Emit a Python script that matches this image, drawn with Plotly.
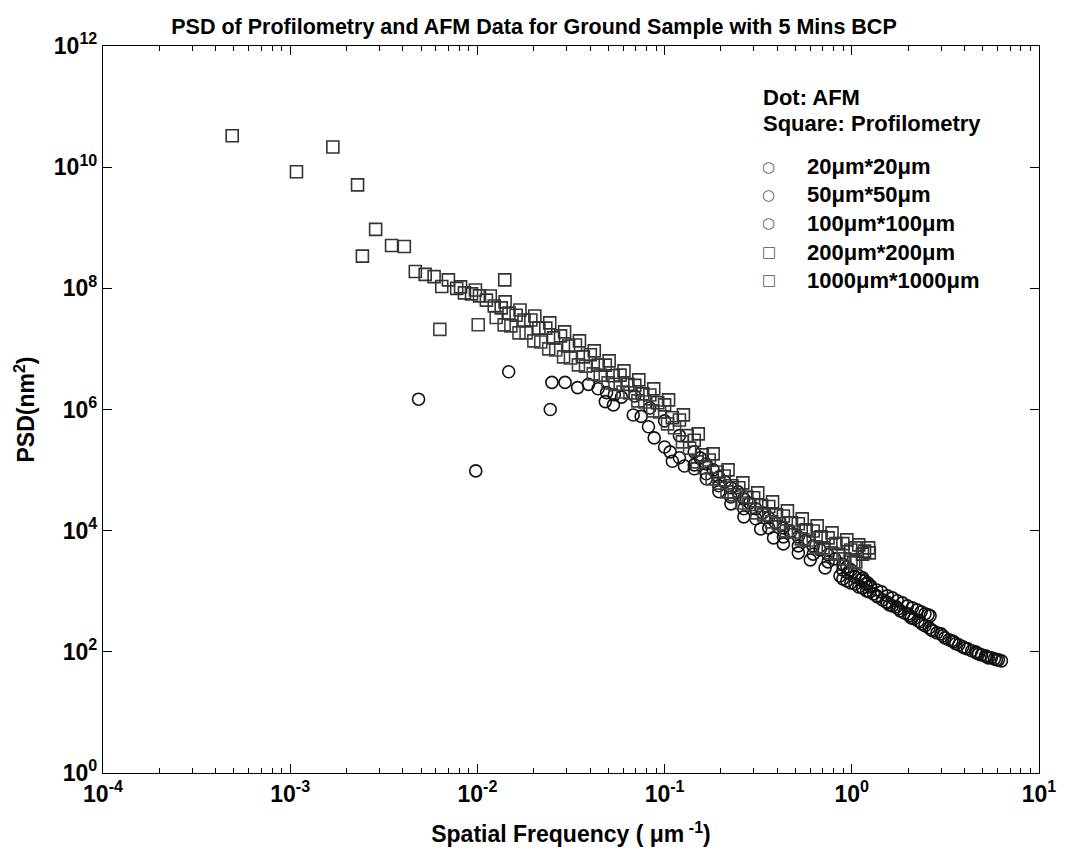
import plotly.graph_objects as go

# ---------------- data ----------------
f_20 = [0.0533, 0.075, 0.088, 0.107, 0.110, 0.1276, 0.144, 0.167, 0.195, 0.226, 0.265, 0.326,
        0.382, 0.431, 0.518, 0.600, 0.720, 0.865, 1.04, 1.14, 1.245, 1.36, 1.46, 1.55, 1.65,
        1.77, 1.91, 2.03, 2.15, 2.32, 2.46, 2.65, 2.85, 3.07, 3.30, 3.51, 3.73, 4.01, 4.37,
        4.64, 4.93, 5.25, 5.57, 5.92, 6.30,
        0.896, 0.941, 0.988, 1.089, 1.144, 1.200, 1.307, 1.373, 1.532, 1.589, 1.730, 1.817,
        2.003, 2.077, 2.262, 2.375, 2.587, 2.716, 2.994, 3.143, 3.423, 3.594, 3.914, 4.159,
        4.585, 4.756, 5.18, 5.37, 5.78, 6.07]
p_20 = [1.19e6, 7.7e5, 3.4e5, 2.0e5, 1.4e5, 1.17e5, 1.05e5, 7.2e4, 4.4e4, 2.77e4, 1.69e4, 1.07e4,
        7.6e3, 6.05e3, 4.3e3, 3.3e3, 2.43e3, 1.79e3, 1.32e3, 1.14e3, 977, 840, 721, 644, 574,
        513, 440, 393, 351, 313, 269, 231, 206, 184, 158, 146, 131, 116, 104,
        96, 89, 83, 80, 74, 71,
        1602, 1485, 1376, 1182, 1138, 1015, 906, 808, 669, 597, 553, 475,
        424, 364, 325, 290, 249, 222, 198, 170, 152, 136, 121, 112,
        100, 92.7, 85.9, 79.6, 76.6, 73.8]

f_50 = [0.025, 0.0482, 0.068, 0.082, 0.100, 0.120, 0.144, 0.167, 0.195, 0.226, 0.265, 0.307,
        0.360, 0.431, 0.518, 0.622, 0.747, 0.896, 1.04, 1.19, 1.36, 1.55, 1.75, 1.98, 2.23,
        2.46, 2.62,
        0.952, 1.116, 1.260, 1.441, 1.648, 1.861, 2.103, 2.346, 2.556]
p_50 = [2.8e6, 1.35e6, 8.1e5, 5.2e5, 2.4e5, 1.6e5, 1.22e5, 8.7e4, 5.5e4, 3.6e4, 2.3e4, 1.57e4,
        1.11e4, 7.9e3, 5.6e3, 4.1e3, 3.05e3, 2.25e3, 1.73e3, 1.32e3, 1.05e3, 840, 695, 574, 493,
        424, 393,
        2012, 1542, 1182, 977, 778, 644, 532, 457, 408]

f_100 = [0.00485, 0.0098, 0.0147, 0.0245, 0.0294, 0.0343, 0.0392, 0.0441, 0.049, 0.0539, 0.0588,
         0.0693, 0.0834, 0.100, 0.120, 0.144, 0.167, 0.195, 0.226, 0.265, 0.307, 0.360, 0.431,
         0.518, 0.622, 0.747, 0.896, 0.99, 1.09, 1.17, 1.26,
         0.155, 0.1817, 0.2103, 0.2464, 0.2851, 0.3341, 0.3914, 0.4699, 0.5641, 0.6771, 0.8128,
         0.941, 1.144, 1.215]
p_100 = [1.48e6, 9.7e4, 4.2e6, 1.0e6, 2.8e6, 2.3e6, 2.6e6, 2.2e6, 1.9e6, 1.75e6, 1.6e6,
         1.67e6, 1.06e6, 6.5e5, 3.7e5, 2.0e5, 1.26e5, 7.7e4, 5.1e4, 3.35e4, 2.3e4, 1.63e4, 1.11e4,
         7.9e3, 5.6e3, 4.0e3, 2.8e3, 2.25e3, 1.8e3, 1.49e3, 1.23e3,
         1.59e5, 1.008e5, 6.39e4, 4.37e4, 2.87e4, 1.97e4, 1.345e4, 9.55e3, 6.79e3, 4.82e3, 3.42e3,
         2.53e3, 1.66e3, 1.376e3]

f_200 = [0.0063, 0.0101, 0.0126, 0.0151, 0.0182, 0.0218, 0.0262, 0.0314, 0.0378, 0.0453, 0.0543,
         0.0653, 0.0783, 0.0941, 0.113, 0.136, 0.163, 0.195, 0.235, 0.282, 0.338, 0.406, 0.487,
         0.585, 0.703, 0.844, 0.99, 1.05,
         0.0139, 0.01668, 0.02002, 0.02404, 0.02886, 0.03465, 0.04159, 0.04993, 0.05995, 0.07197,
         0.0864, 0.1037, 0.1245, 0.1495, 0.1795, 0.2154, 0.2587, 0.3105, 0.3727, 0.4474, 0.5373,
         0.6451, 0.7745, 0.9182, 1.025]
p_200 = [2.1e7, 2.5e7, 3.3e7, 2.4e7, 1.84e7, 1.3e7, 9.6e6, 7.1e6, 5.2e6, 3.7e6, 2.6e6,
         1.88e6, 1.33e6, 9.1e5, 5.0e5, 2.3e5, 1.09e5, 6.1e4, 3.9e4, 2.7e4, 1.82e4, 1.3e4, 9.5e3,
         7.0e3, 5.2e3, 4.1e3, 3.3e3, 3.05e3,
         2.49e7, 1.84e7, 1.355e7, 1.0e7, 7.38e6, 5.45e6, 3.87e6, 2.75e6, 1.95e6, 1.387e6,
         9.48e5, 5.79e5, 2.92e5, 1.366e5, 7.16e4, 4.37e4, 2.87e4, 1.97e4, 1.397e4, 9.92e3, 7.32e3,
         5.40e3, 4.30e3, 3.42e3, 2.94e3]

f_1000 = [4.9e-4, 1.08e-3, 1.69e-3, 2.29e-3, 2.43e-3, 2.86e-3, 3.48e-3, 4.07e-3, 4.66e-3, 5.26e-3,
          5.87e-3, 6.45e-3, 7.0e-3, 1.40e-2,
          7.75e-3, 9.3e-3, 1.117e-2, 1.34e-2, 1.61e-2, 1.93e-2, 2.32e-2, 2.78e-2, 3.34e-2, 4.01e-2,
          4.82e-2, 5.78e-2, 6.93e-2, 8.34e-2, 0.100, 0.120, 0.144, 0.173, 0.208, 0.249, 0.299,
          0.360, 0.431, 0.518, 0.622, 0.747, 0.896, 1.04, 1.17, 1.24,
          8.53e-3, 1.026e-2, 1.23e-2, 1.476e-2, 1.774e-2, 2.13e-2, 2.55e-2, 3.07e-2, 3.68e-2,
          4.42e-2, 5.31e-2, 6.37e-2, 7.65e-2, 9.19e-2, 0.110, 0.132, 0.159, 0.191, 0.229, 0.275,
          0.330, 0.396, 0.476, 0.571, 0.686, 0.823, 0.988, 1.14,
          8.13e-3, 9.76e-3, 1.172e-2, 1.406e-2, 1.689e-2, 2.027e-2, 2.434e-2, 2.922e-2, 3.508e-2,
          4.21e-2, 5.055e-2, 6.068e-2, 7.283e-2, 8.746e-2, 0.105, 0.126, 0.1513, 0.1817, 0.2182,
          0.2618, 0.3144, 0.3773, 0.453, 0.5436, 0.6529, 0.7838, 0.9408, 1.089, 1.23]
p_1000 = [3.3e10, 8.4e9, 2.15e10, 5.1e9, 3.4e8, 9.4e8, 5.1e8, 4.9e8, 1.9e8, 1.7e8,
          1.56e8, 1.07e8, 1.38e8, 1.38e8,
          1.0e8, 8.1e7, 6.4e7, 4.75e7, 3.6e7, 3.0e7, 2.2e7, 1.64e7, 1.16e7, 8.0e6,
          5.4e6, 3.7e6, 2.5e6, 1.74e6, 1.19e6, 6.7e5, 3.1e5, 1.47e5, 8.0e4, 5.1e4, 3.5e4,
          2.5e4, 1.75e4, 1.3e4, 9.9e3, 7.6e3, 6.1e3, 5.2e3, 4.6e3, 4.3e3,
          8.4e7, 7.5e7, 5.1e7, 3.9e7, 3.0e7, 2.2e7, 1.52e7, 1.12e7, 7.4e6,
          5.4e6, 3.6e6, 2.6e6, 1.81e6, 1.29e6, 7.3e5, 3.7e5, 1.78e5, 9.3e4, 5.5e4, 3.6e4,
          2.6e4, 1.82e4, 1.35e4, 1.03e4, 7.9e3, 6.1e3, 4.8e3, 4.1e3,
          1.055e8, 9.41e7, 7.49e7, 5.97e7, 4.40e7, 3.50e7, 2.69e7, 1.91e7, 1.355e7,
          9.27e6, 6.34e6, 4.34e6, 3.08e6, 2.19e6, 1.44e6, 8.14e5, 3.96e5, 1.85e5, 1.008e5,
          6.15e4, 4.20e4, 2.99e4, 2.12e4, 1.565e4, 1.20e4, 9.20e3, 7.05e3, 5.83e3, 5.20e3]

x_tickvals = [1e-4, 1e-3, 1e-2, 1e-1, 1e0, 1e1]
x_ticktext = ["10<sup>-4</sup>", "10<sup>-3</sup>", "10<sup>-2</sup>", "10<sup>-1</sup>",
              "10<sup>0</sup>", "10<sup>1</sup>"]
y_tickvals = [1e0, 1e2, 1e4, 1e6, 1e8, 1e10, 1e12]
y_ticktext = ["10<sup>0</sup>", "10<sup>2</sup>", "10<sup>4</sup>", "10<sup>6</sup>",
              "10<sup>8</sup>", "10<sup>10</sup>", "10<sup>12</sup>"]

series = [
    ("20\u03bcm*20\u03bcm", f_20, p_20, "circle-open", "#111111", "\u25cb"),
    ("50\u03bcm*50\u03bcm", f_50, p_50, "circle-open", "#111111", "\u25cb"),
    ("100\u03bcm*100\u03bcm", f_100, p_100, "circle-open", "#111111", "\u25cb"),
    ("200\u03bcm*200\u03bcm", f_200, p_200, "square-open", "#404040", "\u25a1"),
    ("1000\u03bcm*1000\u03bcm", f_1000, p_1000, "square-open", "#333333", "\u25a1"),
]

FONT = "Liberation Sans, Arial, sans-serif"

fig = go.Figure()
for name, fx, py, sym, col, glyph in series:
    fig.add_trace(go.Scatter(
        x=fx, y=py, mode="markers", name=name, showlegend=False,
        marker=dict(symbol=sym, size=12, color=col, line=dict(color=col, width=1.6)),
    ))

fig.update_layout(
    width=1068, height=857,
    margin=dict(l=103, r=20, t=46, b=84),
    paper_bgcolor="white", plot_bgcolor="white",
    font=dict(family=FONT, color="black", size=21, weight="bold"),
    title=dict(text="PSD of Profilometry and AFM Data for Ground Sample with 5 Mins BCP",
               x=0.5, xref="container", xanchor="center",
               y=1 - 26 / 857, yref="container", yanchor="middle",
               font=dict(family=FONT, size=21.5, weight="bold", color="black")),
    showlegend=False,
)

fig.update_xaxes(
    type="log", range=[-4, 1], tickvals=x_tickvals, ticktext=x_ticktext,
    showgrid=False, zeroline=False,
    showline=True, linecolor="black", linewidth=1.2, mirror="ticks",
    ticks="inside", ticklen=9, tickwidth=1, tickcolor="black",
    minor=dict(ticks="inside", ticklen=5, tickwidth=1, tickcolor="black", dtick="D1", showgrid=False),
    tickfont=dict(family=FONT, size=23, weight="bold", color="black"),
    title=dict(text="Spatial Frequency ( \u03bcm<sup> -1</sup>)", standoff=20,
               font=dict(family=FONT, size=23, weight="bold", color="black")),
)
fig.update_yaxes(
    type="log", range=[0, 12], tickvals=y_tickvals, ticktext=y_ticktext,
    showgrid=False, zeroline=False,
    showline=True, linecolor="black", linewidth=1.2, mirror="ticks",
    ticks="inside", ticklen=9, tickwidth=1, tickcolor="black",
    tickfont=dict(family=FONT, size=23, weight="bold", color="black"),
    title=dict(text="PSD(nm<sup>2</sup>)", standoff=12,
               font=dict(family=FONT, size=23, weight="bold", color="black")),
)

# legend header + entries (text annotations in the plot's top right corner)
LEG_FONT = dict(family=FONT, size=22, weight="bold", color="black")
fig.add_annotation(text="Dot: AFM", xref="paper", yref="paper", x=0.7026, y=0.9285,
                   xanchor="left", yanchor="middle", showarrow=False, font=LEG_FONT)
fig.add_annotation(text="Square: Profilometry", xref="paper", yref="paper", x=0.7026, y=0.894,
                   xanchor="left", yanchor="middle", showarrow=False, font=LEG_FONT)
row_y = [0.8336, 0.7951, 0.7565, 0.7166, 0.6781]
for (name, fx, py, sym, col, glyph), yy in zip(series, row_y):
    fig.add_annotation(text=glyph, xref="paper", yref="paper", x=0.7111, y=yy,
                       xanchor="center", yanchor="middle", showarrow=False,
                       font=dict(family="DejaVu Sans", size=15, color="#555555"))
    fig.add_annotation(text=name, xref="paper", yref="paper", x=0.7503, y=yy,
                       xanchor="left", yanchor="middle", showarrow=False, font=LEG_FONT)

fig.write_html("out.html")
